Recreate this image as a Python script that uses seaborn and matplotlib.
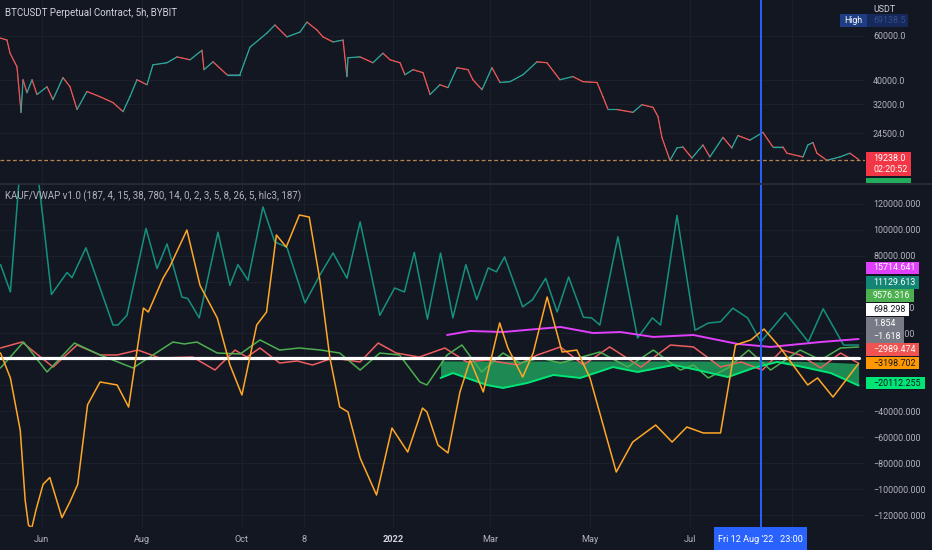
import matplotlib
matplotlib.use("Agg")
import matplotlib.pyplot as plt
from matplotlib.patches import Rectangle
from matplotlib.lines import Line2D
from matplotlib.ticker import FixedLocator, FuncFormatter, NullLocator
import seaborn as sns
import pandas as pd
import numpy as np

# ---------------- data ----------------
BASE_DATE = "2021-06-01"          # day offsets below are counted from this date

price_days = [-25.3, -21.1, -19.2, -15, -12.5, -11.3, -8.9, -5.8, -2.8, 3.3, 6.9, 13, 17.3, 21.6,
              27.6, 35.6, 43.5, 49.6, 53.8, 58.1, 64.2, 67.8, 76.4, 82.5, 90.4, 97.7, 98.9, 104.4,
              112.9, 120.8, 126.9, 137.3, 142.1, 149.4, 157.4, 161.6, 167.7, 171.4, 177.5, 183.6,
              186, 186.6, 193.9, 201.8, 207.9, 212.2, 218.3, 221.3, 226.2, 232.3, 234.7, 236.6,
              242.6, 247.5, 253, 259.7, 262.7, 268.2, 274.3, 279.2, 285.3, 293.2, 301.7, 307.8,
              315.7, 323.6, 329.7, 338.3, 341.9, 345, 350.4, 360.2, 365.6, 372.4, 375.4, 377.8,
              382.7, 387, 390.6, 396.1, 402.8, 407, 415, 420.4, 424.1, 431.4, 439.3, 445.4, 451.5,
              453.9, 463.7, 466.7, 469.8, 472.2, 478.3, 486.2, 492.3, 497.6]
price_close = [58900, 57800, 51200, 45200, 29700, 40100, 35600, 40100, 35000, 37600, 33400, 40900,
               37600, 30500, 36000, 34300, 32500, 29900, 34300, 40100, 38300, 46000, 46900, 49500,
               48200, 52600, 44000, 47300, 42000, 42000, 54100, 61700, 66400, 59500, 62200, 68200,
               63400, 59500, 56800, 57800, 41300, 49100, 49500, 46900, 51200, 48200, 46900, 42000,
               44000, 42800, 38300, 35000, 38300, 37300, 44800, 44000, 40100, 36600, 44800, 39100,
               39400, 42000, 47300, 46900, 40100, 41300, 39400, 39100, 34300, 30500, 30500, 29700,
               31900, 31100, 28600, 23600, 19100, 21400, 21600, 19500, 22000, 19700, 23600, 21400,
               24000, 23000, 24700, 21600, 21600, 20400, 19700, 22000, 22500, 20400, 19100, 19700,
               20400, 19238]
last_price = 19238.0
price_high = 69138.5

teal_days = [-25, -19, -13, -8, -3, 1, 6, 15.5, 18.5, 27, 43.5, 46.5, 52, 63.6, 70.3, 76.4, 85.5, 89,
             96, 107.4, 114.7, 119.6, 125.7, 134.8, 142, 149.4, 160.4, 169.5, 177.5, 186, 194, 206,
             215, 221, 227, 235, 243, 250.5, 258.4, 265, 272, 277, 282, 293, 299, 307, 314, 321, 330,
             335, 340, 351, 363, 372, 377, 387, 398, 406, 413.5, 421, 430, 438, 453, 467, 476, 488.5,
             497.6]
teal_vals = [73000, 52000, 150000, 140000, 150000, 107000, 50000, 67000, 63000, 86000, 26500, 26500,
             34000, 101000, 70000, 89000, 48000, 47000, 32000, 98000, 57000, 73000, 61000, 117500,
             90500, 86500, 43500, 65000, 82000, 62500, 106000, 34000, 55000, 52000, 82500, 31000,
             82000, 32000, 73000, 46000, 70500, 67500, 79000, 40500, 46000, 62500, 36500, 63500,
             32500, 32000, 26500, 94500, 16500, 32000, 26500, 111000, 22500, 28000, 29000, 39500,
             32000, 13500, 36000, 13500, 39000, 11000, 11130]

orange_days = [-25, -19, -13, -10, -8, -6, -3.4, 0.9, 5, 12.4, 17.3, 22, 28, 35.6, 46, 53, 62, 65, 74,
               78, 88.5, 96.5, 107, 114.7, 122, 131, 137, 143, 149, 157, 163, 169.5, 175.6, 181.6,
               186.6, 194, 204, 213.4, 223, 232, 234.7, 241.4, 247.5, 254.8, 261, 269, 279, 284, 293,
               299.4, 307.9, 317, 326, 334, 350, 360, 374, 384, 393, 403, 413.5, 422.6, 432, 440,
               450, 466.6, 472.6, 482, 497.6]
orange_vals = [4900, -14300, -54600, -108500, -127600, -130000, -116000, -96300, -91000, -122000,
               -109700, -96300, -35000, -17400, -19700, -36700, 39600, 36500, 62700, 71200, 99700,
               57000, 31900, -4200, -27400, 26500, 36500, 95900, 86600, 111300, 109700, 61000, 1100,
               -36700, -40500, -76000, -104500, -52900, -71400, -37500, -40500, -66000, -72100,
               -25100, -500, -25100, 28100, 8800, -13600, 4900, 48100, 5700, 7200, -14300, -86800,
               -63700, -50600, -63700, -52100, -56700, -56700, 11100, 15000, 23400, 8800, -19700,
               -14300, -29000, -3200]

red_days = [-25, -12, 7, 21.6, 35.6, 46, 58.7, 72, 92, 105.6, 117.8, 125, 133, 145, 155.6, 165, 177.5,
            194, 205, 216, 230, 245.6, 259, 271, 290, 302, 316, 330, 346, 365, 383, 397, 413.5, 426,
            439, 451, 462, 474.5, 486.6, 497.6]
red_vals = [8800, 13400, -5900, 11100, 3400, 3400, 7200, 1100, 1800, -8200, 7200, 1800, 8800, -2800,
            -1200, -4300, 1100, -2000, 12600, 4900, 1800, 8800, -2000, -500, -4300, 3400, 9600, -4300,
            9600, -5900, 11100, 9600, -5900, -2000, -8200, 7200, 3400, -6600, 4900, -2990]

green_days = [-25, -11, 3.3, 20, 35.6, 55.7, 80, 87, 94.6, 107, 121, 133, 145, 157, 170, 181.6, 194,
              206, 218, 230.4, 234.7, 247, 256, 268, 281, 291.5, 303.7, 316, 340, 357, 372.6, 389,
              397, 406, 418, 430.6, 444, 462, 474.5, 486.6, 497.6]
green_vals = [-6600, 13400, -9700, 12600, 3400, -6600, 13400, 11900, 13400, 4900, 4200, 15000, 7200,
              8800, 7200, 4900, -8200, 4900, 3400, -17400, -19700, 3400, 11100, -9700, 4900, -2800,
              1100, -2800, 5700, -5900, 7200, -8200, -4300, -14300, -6600, 7200, -8200, 7200, -500,
              8800, 9580]

magenta_days = [247, 261, 281, 316, 336, 352.5, 372.6, 397, 424, 444, 474.5, 497.6]
magenta_vals = [18800, 21900, 21100, 25000, 20300, 21100, 17300, 18800, 11900, 9600, 13400, 15715]

band_days = [243, 250.5, 271, 281, 295.7, 311.7, 328, 348, 363, 385, 399.5, 418, 433.6, 448, 464,
             480.6, 497.6]
band_low = [-14300, -10500, -19700, -22000, -18200, -12000, -14300, -5900, -9700, -4300, -8200,
            -13600, -6600, -2000, -5900, -10500, -20112]
band_high = [-1200, -1200, -1200, -1200, -1200, -1200, -1200, -1200, -1200, -1200, -1200, -1200,
             -1200, -1200, -1500, -2200, -3200]

vwap_days = [-25.3, 497.6]
vwap_vals = [698, 698]

scale_values = [15714.641, 11129.613, 9576.316, 698.298, 1.854, -1.618, -2989.474, -3198.702,
                -20112.255]

tick_dates = ["2021-06-01", "2021-08-01", "2021-10-01", "2021-11-08", "2022-01-01", "2022-03-01",
              "2022-05-01", "2022-07-01", "2022-09-01"]
tick_labels = ["Jun", "Aug", "Oct", "8", "2022", "Mar", "May", "Jul", ""]   # Sep hidden by cursor label
top_ticks = [24500, 32000, 40000, 60000]
bottom_ticks = [-120000, -100000, -80000, -60000, -40000, -20000, 0, 20000, 40000, 60000, 80000,
                100000, 120000]
hidden_ticks = [60000, 0, -20000]   # fully covered by the value labels in the reference
cursor_time = "2022-08-12 23:00"
cursor_label = "Fri 12 Aug '22   23:00"
title_top = "BTCUSDT Perpetual Contract, 5h, BYBIT"
title_bottom = "KAUF/VWAP v1.0 (187, 4, 15, 38, 780, 14, 0, 2, 3, 5, 8, 26, 5, hlc3, 187)"

# ---------------- style ----------------
BG = "#131722"
GRID = "#1c202b"
TXT = "#b2b5be"
UP, DOWN = "#26a69a", "#ef5350"
C_TEAL, C_ORANGE, C_RED, C_GREEN = "#15917f", "#ffa726", "#ee5d5f", "#4caf50"
C_MAG, C_LIME = "#e040fb", "#00e676"
FS = 6.4

sns.set_theme(style="dark", rc={"axes.facecolor": BG, "figure.facecolor": BG,
                                "axes.grid": True, "grid.color": GRID, "grid.linewidth": 0.8,
                                "axes.edgecolor": BG})
plt.rcParams["font.family"] = ["Roboto", "DejaVu Sans"]

W, H = 932, 550
fig = plt.figure(figsize=(W / 100, H / 100), dpi=100)


def fx(px):
    return px / W


def fy(py):
    return 1 - py / H


ax_top = fig.add_axes([0, fy(183), fx(865), 183 / H])
ax_bot = fig.add_axes([0, fy(527), fx(865), (527 - 184) / H])

base = pd.Timestamp(BASE_DATE)


def to_dates(days):
    return base + pd.to_timedelta(np.asarray(days, dtype=float), unit="D")


x_left = to_dates([-25.33])[0]
x_right = to_dates([501.5])[0]

# ---------------- top pane: price ----------------
pdates = to_dates(price_days)
pc = np.asarray(price_close, dtype=float)
sns.lineplot(x=pdates, y=pc, ax=ax_top, color="#6b7080", lw=0.5, estimator=None)
for i in range(len(pc) - 1):
    col = UP if pc[i + 1] >= pc[i] else DOWN
    ax_top.plot(pdates[i:i + 2], pc[i:i + 2], color=col, lw=0.9)
ax_top.axhline(last_price, color="#b9854f", lw=0.9, ls=(0, (3, 2)))
ax_top.set_yscale("log")
ax_top.set_ylim(15500, 83570)
ax_top.yaxis.set_major_locator(FixedLocator(top_ticks))
ax_top.yaxis.set_minor_locator(NullLocator())
ax_top.yaxis.set_major_formatter(FuncFormatter(lambda v, p: f"{v:.1f}"))

# ---------------- bottom pane: indicator ----------------
ax_bot.fill_between(to_dates(band_days), band_low, band_high, color="#1c8a52", lw=0, zorder=1.5)
series = [
    (teal_days, teal_vals, C_TEAL, 1.1, 2.2),
    (red_days, red_vals, C_RED, 1.1, 2.3),
    (green_days, green_vals, C_GREEN, 1.1, 2.3),
    (magenta_days, magenta_vals, C_MAG, 1.4, 2.4),
    (band_days, band_low, C_LIME, 1.4, 2.4),
    (vwap_days, vwap_vals, "#ffffff", 2.3, 2.6),
    (orange_days, orange_vals, C_ORANGE, 1.1, 2.8),
]
for d, v, c, lw, z in series:
    sns.lineplot(x=to_dates(d), y=np.asarray(v, dtype=float), ax=ax_bot, color=c, lw=lw,
                 estimator=None, zorder=z)
ax_bot.set_ylim(-129170, 135180)
ax_bot.yaxis.set_major_locator(FixedLocator(bottom_ticks))


def bottom_fmt(v, p):
    if any(abs(v - h) < 1 for h in hidden_ticks):
        return ""
    return f"{v:.3f}".replace("-", "\u2212")


ax_bot.yaxis.set_major_formatter(FuncFormatter(bottom_fmt))

# ---------------- axes cosmetics ----------------
cursor = pd.Timestamp(cursor_time)
for ax in (ax_top, ax_bot):
    ax.set_xlim(x_left, x_right)
    ax.set_xticks(pd.to_datetime(tick_dates))
    ax.yaxis.tick_right()
    ax.tick_params(axis="y", length=0, pad=5.8, labelcolor=TXT, labelsize=FS)
    ax.tick_params(axis="x", length=0)
    ax.set_xlabel("")
    ax.set_ylabel("")
    for s in ax.spines.values():
        s.set_visible(False)
    ax.grid(True, color=GRID, lw=0.8)
    ax.axvline(cursor, color="#2962ff", lw=1.4, zorder=5)
ax_top.tick_params(axis="x", labelbottom=False)
ax_bot.set_xticklabels(tick_labels)
ax_bot.tick_params(axis="x", pad=5.4, labelcolor=TXT, labelsize=6.6)
for lab in ax_bot.get_xticklabels():
    if lab.get_text() == "2022":
        lab.set_color("#d1d4dc")
        lab.set_fontweight("bold")

fig.add_artist(Line2D([0, 1], [fy(183.5), fy(183.5)], color="#2a2e39", lw=1.2,
                      transform=fig.transFigure))


def box(x0, y0, x1, y1, color):
    fig.patches.append(Rectangle((fx(x0), fy(y1)), fx(x1 - x0), (y1 - y0) / H,
                                 transform=fig.transFigure, facecolor=color, edgecolor="none",
                                 zorder=5))


def label(x, y, s, color, size=FS, ha="left", weight="normal"):
    fig.text(fx(x), fy(y), s, color=color, fontsize=size, ha=ha, va="center", zorder=6,
             fontweight=weight)


# titles
label(5, 13, title_top, "#d1d4dc", size=7.0)
label(5, 196, title_bottom, "#b2b5be", size=7.0)
label(873, 10, "USDT", "#d1d4dc")

# High marker
box(840, 14, 867, 27, "#1f3d84")
box(867, 14, 908, 27, "#17285a")
label(844, 20.5, "High", "#ffffff")
label(873, 20.5, f"{price_high:.1f}", "#34508f")

# last price box
box(866, 152, 911, 176, "#f23645")
label(873, 158, f"{last_price:.1f}", "#ffffff")
label(873, 170, "02:20:52", "#ffffff")
box(866, 178, 911, 183, "#22ab5a")

# indicator scale labels
layout = [  # (y0, y1, x1, box colour, text colour)
    (262, 274, 919, C_MAG, "#ffffff"),
    (276, 289, 919, "#138575", "#ffffff"),
    (289, 302, 914, C_GREEN, "#ffffff"),
    (303, 316, 909, "#ffffff", "#131722"),
    (317, 330, 904, "#787b86", "#ffffff"),
    (330, 343, 904, "#787b86", "#ffffff"),
    (343, 356, 919, "#f05350", "#ffffff"),
    (357, 369, 919, "#ff9800", "#131722"),
    (377, 389, 925, C_LIME, "#131722"),
]
for val, (y0, y1, x1, bc, tc) in zip(scale_values, layout):
    box(866, y0, x1, y1, bc)
    label(873, (y0 + y1) / 2, f"{val:.3f}".replace("-", "\u2212"), tc)

# cursor date label
box(714, 527, 807, 550, "#2962ff")
label(760.5, 539, cursor_label, "#ffffff", size=6.6, ha="center")

fig.savefig("out.png", dpi=100, facecolor=BG)
